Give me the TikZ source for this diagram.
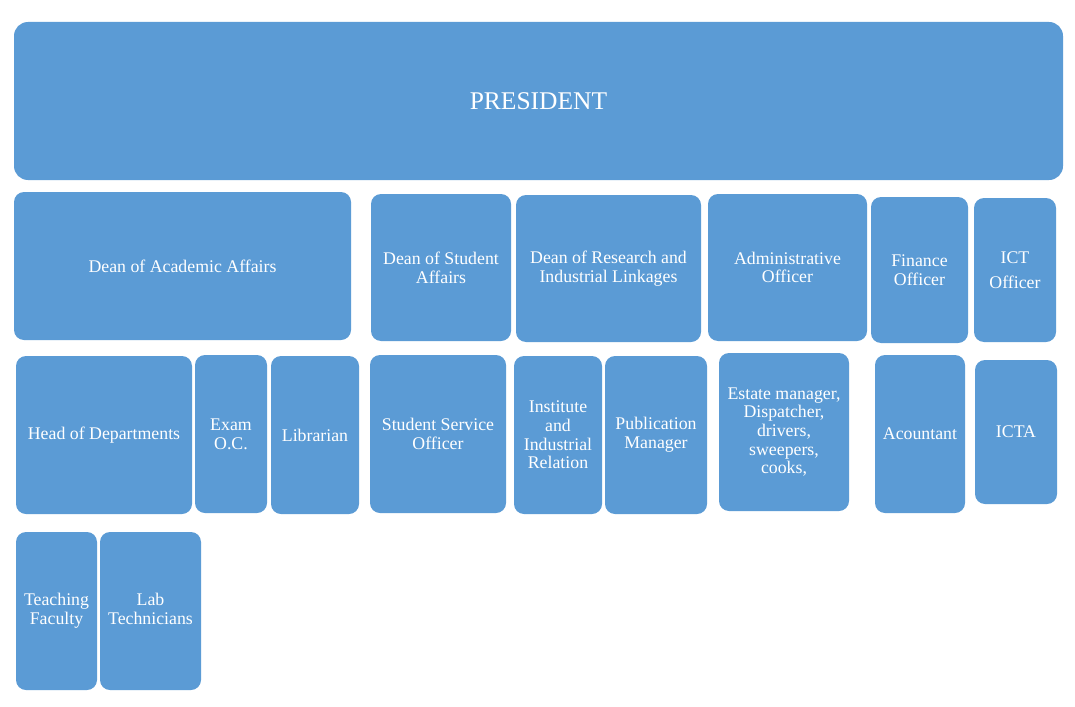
\documentclass[tikz,border=0pt]{standalone}
\usepackage{fontspec}
\setmainfont{Liberation Serif}
\definecolor{boxblue}{HTML}{5B9BD5}
\begin{document}
\begin{tikzpicture}[x=1pt,y=-1pt,
  box/.style={fill=boxblue, draw=none, rounded corners=10pt, text=white, align=center,
    inner sep=1pt, font=\fontsize{17.8}{18.7}\selectfont},
  big/.style={box, rounded corners=14pt, font=\fontsize{25.5}{28}\selectfont}]
\useasboundingbox[fill=white] (0,0) rectangle (1075,706);
\node[big, minimum width=1049pt, minimum height=158pt] (pres) at (538.5,101) {PRESIDENT};
% row 1
\node[box, minimum width=337pt, minimum height=148pt] (dacad) at (182.5,266) {Dean of Academic Affairs};
\node[box, minimum width=140pt, minimum height=147pt] (dstud) at (441,267.5) {Dean of Student\\Affairs};
\node[box, minimum width=185pt, minimum height=147pt] (dres) at (608.5,268.5) {Dean of Research and\\Industrial Linkages};
\node[box, minimum width=159pt, minimum height=147pt] (admin) at (787.5,267.5) {Administrative\\Officer};
\node[box, minimum width=97pt, minimum height=146pt] (fin) at (919.5,270) {Finance\\Officer};
\node[box, minimum width=82pt, minimum height=144pt, font=\fontsize{17.8}{25}\selectfont] (ict) at (1015,270) {ICT\\Officer};
% row 2
\node[box, minimum width=176pt, minimum height=158pt] (head) at (104,435) {Head of Departments};
\node[box, minimum width=72pt, minimum height=158pt] (exam) at (231,434) {Exam\\O.C.};
\node[box, minimum width=88pt, minimum height=158pt] (lib) at (315,435) {Librarian};
\node[box, minimum width=136pt, minimum height=158pt] (sso) at (438,434) {Student Service\\Officer};
\node[box, minimum width=88pt, minimum height=158pt] (inst) at (558,435) {Institute\\and\\Industrial\\Relation};
\node[box, minimum width=102pt, minimum height=158pt] (pub) at (656,435) {Publication\\Manager};
\node[box, minimum width=130pt, minimum height=158pt] (estate) at (784,432) {Estate manager,\\Dispatcher,\\drivers,\\sweepers,\\cooks,};
\node[box, minimum width=90pt, minimum height=158pt] (acc) at (920,434) {Acountant};
\node[box, minimum width=82pt, minimum height=144pt] (icta) at (1016,432) {ICTA};
% row 3
\node[box, minimum width=81pt, minimum height=158pt] (teach) at (56.5,611) {Teaching\\Faculty};
\node[box, minimum width=101pt, minimum height=158pt] (lab) at (150.5,611) {Lab\strut\\Technicians\strut};
\end{tikzpicture}
\end{document}
